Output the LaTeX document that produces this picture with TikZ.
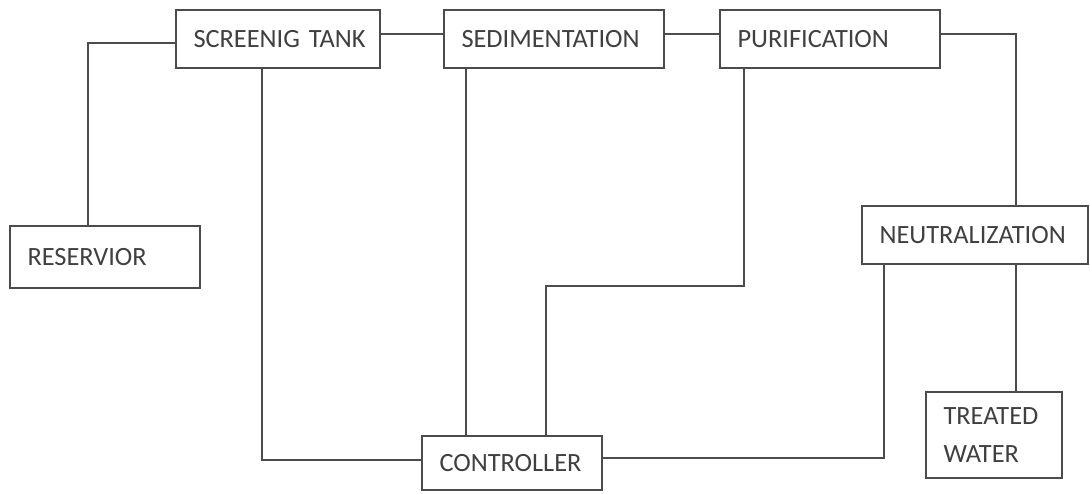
\documentclass[tikz,border=0pt]{standalone}
\usepackage{fontspec}
\setmainfont{Carlito}
\usetikzlibrary{positioning}

\begin{document}
\begin{tikzpicture}[
            box/.style={draw=black!70, line width=1.3pt, align=left, inner xsep=0.35cm,
                        text=black!75, font=\fontsize{15}{22}\selectfont, fill=white},
            link/.style={draw=black!70, line width=0.9pt},
        ]
        \useasboundingbox (0,0) rectangle (21.8,-9.86);
        \node[box, text width=3.38cm, minimum height=1.16cm] (tank)  at (5.56,-0.78)  {\mbox{SCREENIG TANK}};
        \node[box, text width=3.70cm, minimum height=1.16cm] (sed)   at (11.08,-0.78) {SEDIMENTATION};
        \node[box, text width=3.70cm, minimum height=1.16cm] (pur)   at (16.6,-0.78)  {PURIFICATION};
        \node[box, text width=3.10cm, minimum height=1.24cm] (res)   at (2.1,-5.14)   {RESERVIOR};
        \node[box, text width=3.82cm, minimum height=1.16cm] (neut)  at (19.5,-4.7)   {NEUTRALIZATION};
        \node[box, text width=2.02cm, minimum height=1.72cm] (treat) at (19.88,-8.7)  {TREATED\\WATER};
        \node[box, text width=2.90cm, minimum height=1.08cm] (ctrl)  at (10.24,-9.26) {CONTROLLER};
        \coordinate (nx) at (20.32,0);
        \coordinate (bend) at (10.92,-5.72);
        % main line
        \draw[link] ([xshift=-0.34cm]res.north) |- ([yshift=-0.08cm]tank.west);
        \draw[link] ([yshift=0.1cm]tank.east) -- ([yshift=0.1cm]sed.west);
        \draw[link] ([yshift=0.1cm]sed.east) -- ([yshift=0.1cm]pur.west);
        \draw[link] ([yshift=0.1cm]pur.east) -| (neut.north -| nx);
        \draw[link] (neut.south -| nx) -- (treat.north -| nx);
        % control lines
        \draw[link] ([xshift=-0.32cm]tank.south) |- ([yshift=0.06cm]ctrl.west);
        \draw[link] ([xshift=-1.76cm]sed.south) -- ([xshift=-1.76cm]sed.south |- ctrl.north);
        \draw[link] ([xshift=-1.72cm]pur.south) |- (bend) -- (bend |- ctrl.north);
        \draw[link] ([xshift=-1.82cm]neut.south) |- ([yshift=0.1cm]ctrl.east);
    \end{tikzpicture}
\end{document}
